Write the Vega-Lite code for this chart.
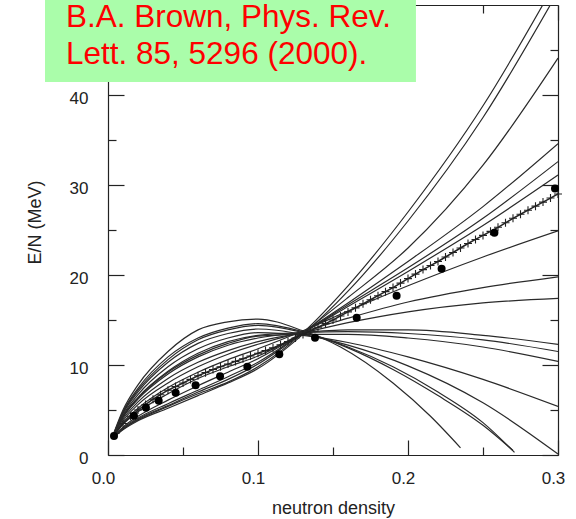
{
  "$schema": "https://vega.github.io/schema/vega-lite/v6.json",
  "width": 450,
  "height": 450,
  "autosize": {"type": "none"},
  "padding": {"left": 108, "top": 5, "right": 18, "bottom": 64},
  "background": "#ffffff",
  "config": {
    "view": {"stroke": null},
    "axis": {
      "grid": false,
      "domainColor": "#222222",
      "domainWidth": 1.2,
      "tickColor": "#222222",
      "tickWidth": 1.2,
      "labelFont": "Liberation Sans",
      "labelFontSize": 17,
      "labelColor": "#222222",
      "titleFont": "Liberation Sans",
      "titleFontSize": 18,
      "titleFontWeight": "normal",
      "titleColor": "#222222"
    }
  },
  "datasets": {
    "curves": [
      {"c":"c1","rho":0.004,"e":2.1},{"c":"c1","rho":0.01,"e":2.9},{"c":"c1","rho":0.02,"e":3.9},{"c":"c1","rho":0.04,"e":5.4},{"c":"c1","rho":0.06,"e":6.8},{"c":"c1","rho":0.08,"e":8.1},{"c":"c1","rho":0.1,"e":9.8},{"c":"c1","rho":0.13,"e":13.6},{"c":"c1","rho":0.16,"e":18.8},{"c":"c1","rho":0.2,"e":27.0},{"c":"c1","rho":0.25,"e":38.8},{"c":"c1","rho":0.3,"e":53.0},
      {"c":"c2","rho":0.004,"e":2.0},{"c":"c2","rho":0.01,"e":2.8},{"c":"c2","rho":0.02,"e":3.8},{"c":"c2","rho":0.04,"e":5.2},{"c":"c2","rho":0.06,"e":6.6},{"c":"c2","rho":0.08,"e":8.0},{"c":"c2","rho":0.1,"e":9.6},{"c":"c2","rho":0.13,"e":13.4},{"c":"c2","rho":0.16,"e":18.2},{"c":"c2","rho":0.2,"e":26.0},{"c":"c2","rho":0.25,"e":37.5},{"c":"c2","rho":0.3,"e":51.5},
      {"c":"c3","rho":0.004,"e":2.1},{"c":"c3","rho":0.01,"e":2.9},{"c":"c3","rho":0.02,"e":4.0},{"c":"c3","rho":0.04,"e":5.5},{"c":"c3","rho":0.06,"e":7.0},{"c":"c3","rho":0.08,"e":8.4},{"c":"c3","rho":0.1,"e":10.1},{"c":"c3","rho":0.13,"e":13.6},{"c":"c3","rho":0.16,"e":17.5},{"c":"c3","rho":0.2,"e":23.0},{"c":"c3","rho":0.25,"e":32.2},{"c":"c3","rho":0.3,"e":44.1},
      {"c":"c4","rho":0.004,"e":2.1},{"c":"c4","rho":0.01,"e":3.0},{"c":"c4","rho":0.02,"e":4.1},{"c":"c4","rho":0.04,"e":5.7},{"c":"c4","rho":0.06,"e":7.2},{"c":"c4","rho":0.08,"e":8.7},{"c":"c4","rho":0.1,"e":10.3},{"c":"c4","rho":0.13,"e":13.6},{"c":"c4","rho":0.16,"e":16.9},{"c":"c4","rho":0.2,"e":21.5},{"c":"c4","rho":0.25,"e":27.6},{"c":"c4","rho":0.3,"e":34.6},
      {"c":"c5","rho":0.004,"e":2.1},{"c":"c5","rho":0.01,"e":3.1},{"c":"c5","rho":0.02,"e":4.3},{"c":"c5","rho":0.04,"e":6.1},{"c":"c5","rho":0.06,"e":7.7},{"c":"c5","rho":0.08,"e":9.2},{"c":"c5","rho":0.1,"e":10.7},{"c":"c5","rho":0.13,"e":13.6},{"c":"c5","rho":0.16,"e":16.7},{"c":"c5","rho":0.2,"e":20.8},{"c":"c5","rho":0.25,"e":26.3},{"c":"c5","rho":0.3,"e":32.6},
      {"c":"c6","rho":0.004,"e":2.2},{"c":"c6","rho":0.01,"e":3.4},{"c":"c6","rho":0.02,"e":4.8},{"c":"c6","rho":0.04,"e":6.8},{"c":"c6","rho":0.06,"e":8.5},{"c":"c6","rho":0.08,"e":9.8},{"c":"c6","rho":0.1,"e":11.0},{"c":"c6","rho":0.13,"e":13.6},{"c":"c6","rho":0.16,"e":16.5},{"c":"c6","rho":0.2,"e":20.4},{"c":"c6","rho":0.25,"e":25.5},{"c":"c6","rho":0.3,"e":31.1},
      {"c":"c7","rho":0.004,"e":2.2},{"c":"c7","rho":0.01,"e":3.6},{"c":"c7","rho":0.02,"e":5.2},{"c":"c7","rho":0.04,"e":7.5},{"c":"c7","rho":0.06,"e":9.2},{"c":"c7","rho":0.08,"e":10.6},{"c":"c7","rho":0.1,"e":11.8},{"c":"c7","rho":0.13,"e":13.8},{"c":"c7","rho":0.16,"e":16.0},{"c":"c7","rho":0.2,"e":18.8},{"c":"c7","rho":0.25,"e":22.0},{"c":"c7","rho":0.3,"e":24.9},
      {"c":"c8","rho":0.004,"e":2.2},{"c":"c8","rho":0.01,"e":3.8},{"c":"c8","rho":0.02,"e":5.6},{"c":"c8","rho":0.04,"e":8.0},{"c":"c8","rho":0.06,"e":9.8},{"c":"c8","rho":0.08,"e":11.2},{"c":"c8","rho":0.1,"e":12.3},{"c":"c8","rho":0.13,"e":13.7},{"c":"c8","rho":0.16,"e":15.2},{"c":"c8","rho":0.2,"e":17.0},{"c":"c8","rho":0.25,"e":18.6},{"c":"c8","rho":0.3,"e":19.8},
      {"c":"c9","rho":0.004,"e":2.3},{"c":"c9","rho":0.01,"e":4.0},{"c":"c9","rho":0.02,"e":5.9},{"c":"c9","rho":0.04,"e":8.5},{"c":"c9","rho":0.06,"e":10.3},{"c":"c9","rho":0.08,"e":11.6},{"c":"c9","rho":0.1,"e":12.6},{"c":"c9","rho":0.13,"e":13.6},{"c":"c9","rho":0.16,"e":14.7},{"c":"c9","rho":0.2,"e":15.9},{"c":"c9","rho":0.25,"e":16.9},{"c":"c9","rho":0.3,"e":17.4},
      {"c":"c10","rho":0.004,"e":2.3},{"c":"c10","rho":0.01,"e":4.2},{"c":"c10","rho":0.02,"e":6.2},{"c":"c10","rho":0.04,"e":9.0},{"c":"c10","rho":0.06,"e":10.9},{"c":"c10","rho":0.08,"e":12.2},{"c":"c10","rho":0.1,"e":13.0},{"c":"c10","rho":0.13,"e":13.6},{"c":"c10","rho":0.16,"e":13.9},{"c":"c10","rho":0.2,"e":13.9},{"c":"c10","rho":0.25,"e":13.3},{"c":"c10","rho":0.3,"e":12.3},
      {"c":"c11","rho":0.004,"e":2.3},{"c":"c11","rho":0.01,"e":4.3},{"c":"c11","rho":0.02,"e":6.4},{"c":"c11","rho":0.04,"e":9.3},{"c":"c11","rho":0.06,"e":11.3},{"c":"c11","rho":0.08,"e":12.6},{"c":"c11","rho":0.1,"e":13.3},{"c":"c11","rho":0.13,"e":13.6},{"c":"c11","rho":0.16,"e":13.7},{"c":"c11","rho":0.2,"e":13.5},{"c":"c11","rho":0.25,"e":12.8},{"c":"c11","rho":0.3,"e":11.5},
      {"c":"c12","rho":0.004,"e":2.3},{"c":"c12","rho":0.01,"e":4.2},{"c":"c12","rho":0.02,"e":6.3},{"c":"c12","rho":0.04,"e":9.2},{"c":"c12","rho":0.06,"e":11.1},{"c":"c12","rho":0.08,"e":12.4},{"c":"c12","rho":0.1,"e":13.2},{"c":"c12","rho":0.13,"e":13.4},{"c":"c12","rho":0.16,"e":13.4},{"c":"c12","rho":0.2,"e":13.0},{"c":"c12","rho":0.25,"e":12.0},{"c":"c12","rho":0.3,"e":10.4},
      {"c":"c13","rho":0.004,"e":2.3},{"c":"c13","rho":0.01,"e":4.4},{"c":"c13","rho":0.02,"e":6.7},{"c":"c13","rho":0.04,"e":9.8},{"c":"c13","rho":0.06,"e":11.8},{"c":"c13","rho":0.08,"e":13.0},{"c":"c13","rho":0.1,"e":13.6},{"c":"c13","rho":0.13,"e":13.3},{"c":"c13","rho":0.16,"e":12.5},{"c":"c13","rho":0.2,"e":10.9},{"c":"c13","rho":0.25,"e":8.4},{"c":"c13","rho":0.3,"e":5.4},
      {"c":"c14","rho":0.004,"e":2.4},{"c":"c14","rho":0.01,"e":4.6},{"c":"c14","rho":0.02,"e":7.0},{"c":"c14","rho":0.04,"e":10.3},{"c":"c14","rho":0.06,"e":12.4},{"c":"c14","rho":0.08,"e":13.5},{"c":"c14","rho":0.1,"e":14.0},{"c":"c14","rho":0.13,"e":13.4},{"c":"c14","rho":0.16,"e":12.2},{"c":"c14","rho":0.2,"e":9.9},{"c":"c14","rho":0.25,"e":5.8},{"c":"c14","rho":0.3,"e":0.1},
      {"c":"c15","rho":0.004,"e":2.4},{"c":"c15","rho":0.01,"e":4.8},{"c":"c15","rho":0.02,"e":7.4},{"c":"c15","rho":0.04,"e":10.9},{"c":"c15","rho":0.06,"e":13.0},{"c":"c15","rho":0.08,"e":14.1},{"c":"c15","rho":0.1,"e":14.6},{"c":"c15","rho":0.13,"e":13.7},{"c":"c15","rho":0.16,"e":11.9},{"c":"c15","rho":0.19,"e":9.5},{"c":"c15","rho":0.22,"e":6.6},{"c":"c15","rho":0.25,"e":3.3},{"c":"c15","rho":0.27,"e":0.5},
      {"c":"c16","rho":0.004,"e":2.4},{"c":"c16","rho":0.01,"e":4.7},{"c":"c16","rho":0.02,"e":7.2},{"c":"c16","rho":0.04,"e":10.6},{"c":"c16","rho":0.06,"e":12.8},{"c":"c16","rho":0.08,"e":13.9},{"c":"c16","rho":0.1,"e":14.4},{"c":"c16","rho":0.13,"e":13.6},{"c":"c16","rho":0.16,"e":12.0},{"c":"c16","rho":0.19,"e":9.8},{"c":"c16","rho":0.22,"e":7.0},{"c":"c16","rho":0.25,"e":3.6},{"c":"c16","rho":0.271,"e":0.3},
      {"c":"c17","rho":0.004,"e":2.5},{"c":"c17","rho":0.01,"e":5.0},{"c":"c17","rho":0.02,"e":7.8},{"c":"c17","rho":0.04,"e":11.5},{"c":"c17","rho":0.06,"e":13.9},{"c":"c17","rho":0.08,"e":14.8},{"c":"c17","rho":0.1,"e":15.1},{"c":"c17","rho":0.13,"e":13.8},{"c":"c17","rho":0.155,"e":12.0},{"c":"c17","rho":0.19,"e":8.0},{"c":"c17","rho":0.215,"e":4.3},{"c":"c17","rho":0.235,"e":0.8}
    ],
    "crosses": [
      {"rho":0.005,"e":2.4},{"rho":0.01,"e":3.5},{"rho":0.015,"e":4.3},{"rho":0.02,"e":5.0},{"rho":0.025,"e":5.6},{"rho":0.03,"e":6.2},{"rho":0.035,"e":6.7},{"rho":0.04,"e":7.2},{"rho":0.045,"e":7.6},{"rho":0.05,"e":8.0},
      {"rho":0.055,"e":8.4},{"rho":0.06,"e":8.8},{"rho":0.065,"e":9.15},{"rho":0.07,"e":9.5},{"rho":0.075,"e":9.8},{"rho":0.08,"e":10.1},{"rho":0.085,"e":10.4},{"rho":0.09,"e":10.7},{"rho":0.095,"e":11.0},{"rho":0.1,"e":11.3},
      {"rho":0.105,"e":11.6},{"rho":0.11,"e":11.9},{"rho":0.115,"e":12.25},{"rho":0.12,"e":12.6},{"rho":0.125,"e":13.0},{"rho":0.13,"e":13.4},{"rho":0.135,"e":13.8},{"rho":0.14,"e":14.2},{"rho":0.145,"e":14.6},{"rho":0.15,"e":15.0},
      {"rho":0.155,"e":15.45},{"rho":0.16,"e":15.9},{"rho":0.165,"e":16.35},{"rho":0.17,"e":16.8},{"rho":0.175,"e":17.25},{"rho":0.18,"e":17.7},{"rho":0.185,"e":18.15},{"rho":0.19,"e":18.6},{"rho":0.195,"e":19.1},{"rho":0.2,"e":19.6},
      {"rho":0.205,"e":20.1},{"rho":0.21,"e":20.6},{"rho":0.215,"e":21.05},{"rho":0.22,"e":21.5},{"rho":0.225,"e":22.0},{"rho":0.23,"e":22.5},{"rho":0.235,"e":23.0},{"rho":0.24,"e":23.5},{"rho":0.245,"e":23.95},{"rho":0.25,"e":24.4},
      {"rho":0.255,"e":24.85},{"rho":0.26,"e":25.3},{"rho":0.265,"e":25.8},{"rho":0.27,"e":26.3},{"rho":0.275,"e":26.75},{"rho":0.28,"e":27.2},{"rho":0.285,"e":27.65},{"rho":0.29,"e":28.1},{"rho":0.295,"e":28.55},{"rho":0.3,"e":29.0}
    ],
    "dots": [
      {"rho":0.004,"e":2.1},{"rho":0.0173,"e":4.37},{"rho":0.0253,"e":5.26},{"rho":0.0338,"e":6.04},{"rho":0.0451,"e":6.93},
      {"rho":0.0584,"e":7.74},{"rho":0.0747,"e":8.74},{"rho":0.0929,"e":9.81},{"rho":0.1142,"e":11.2},{"rho":0.138,"e":13.04},
      {"rho":0.1658,"e":15.26},{"rho":0.1924,"e":17.7},{"rho":0.2224,"e":20.7},{"rho":0.2576,"e":24.7},{"rho":0.298,"e":29.6}
    ],
    "noteBox": [
      {"x0":-0.042,"x1":0.2053,"y0":41.44,"y1":51}
    ],
    "noteText": [
      {"rho":-0.028,"e":47.6,"t":"B.A. Brown, Phys. Rev."},
      {"rho":-0.028,"e":43.5,"t":"Lett. 85, 5296 (2000)."}
    ]
  },
  "layer": [
    {
      "data": {"name": "curves"},
      "mark": {"type": "line", "clip": true, "interpolate": "monotone", "color": "#2a2a2a", "strokeWidth": 1.2},
      "encoding": {
        "x": {
          "field": "rho", "type": "quantitative",
          "scale": {"domain": [0, 0.3], "nice": false, "zero": false},
          "axis": {
            "orient": "bottom",
            "values": [0, 0.05, 0.1, 0.15, 0.2, 0.25, 0.3],
            "tickSize": {"condition": {"test": "abs(datum.value*10 - round(datum.value*10)) < 0.001", "value": -15}, "value": -8},
            "labelExpr": "abs(datum.value*10 - round(datum.value*10)) < 0.001 ? format(datum.value, '.1f') : ''",
            "labelFlush": false,
            "labelOffset": -5,
            "labelPadding": 30,
            "title": "neutron density",
            "titleY": 58,
            "titleBaseline": "alphabetic"
          }
        },
        "y": {
          "field": "e", "type": "quantitative",
          "scale": {"domain": [0, 50], "nice": false, "zero": false},
          "axis": {
            "orient": "left",
            "values": [0, 5, 10, 15, 20, 25, 30, 35, 40, 45],
            "tickSize": {"condition": {"test": "datum.value % 10 === 0", "value": -16}, "value": -8},
            "labelExpr": "datum.value % 10 === 0 ? datum.label : ''",
            "labelOffset": 3,
            "labelPadding": 36,
            "title": "E/N (MeV)",
            "titleX": -68,
            "titleY": 217,
            "titleAngle": -90,
            "titleAlign": "center",
            "titleBaseline": "alphabetic"
          }
        },
        "detail": {"field": "c", "type": "nominal"}
      }
    },
    {
      "data": {"name": "crosses"},
      "mark": {"type": "line", "clip": true, "color": "#222222", "strokeWidth": 1.5},
      "encoding": {
        "x": {"field": "rho", "type": "quantitative", "scale": {"domain": [0, 0.3], "nice": false, "zero": false}, "axis": null},
        "y": {"field": "e", "type": "quantitative", "scale": {"domain": [0, 50], "nice": false, "zero": false}, "axis": null}
      }
    },
    {
      "data": {"name": "crosses"},
      "mark": {"type": "point", "shape": "M0,-1L0,1M-1,0L1,0", "filled": false, "size": 64, "stroke": "#222222", "strokeWidth": 1.1, "opacity": 1},
      "encoding": {
        "x": {"field": "rho", "type": "quantitative", "scale": {"domain": [0, 0.3], "nice": false, "zero": false}, "axis": null},
        "y": {"field": "e", "type": "quantitative", "scale": {"domain": [0, 50], "nice": false, "zero": false}, "axis": null}
      }
    },
    {
      "data": {"name": "dots"},
      "mark": {"type": "circle", "size": 64, "color": "#000000", "opacity": 1},
      "encoding": {
        "x": {
          "field": "rho", "type": "quantitative",
          "scale": {"domain": [0, 0.3], "nice": false, "zero": false},
          "axis": {
            "orient": "top",
            "values": [0, 0.05, 0.1, 0.15, 0.2, 0.25, 0.3],
            "tickSize": {"condition": {"test": "abs(datum.value*10 - round(datum.value*10)) < 0.001", "value": -15}, "value": -8},
            "labels": false,
            "title": null
          }
        },
        "y": {
          "field": "e", "type": "quantitative",
          "scale": {"domain": [0, 50], "nice": false, "zero": false},
          "axis": {
            "orient": "right",
            "values": [0, 5, 10, 15, 20, 25, 30, 35, 40, 45],
            "tickSize": {"condition": {"test": "datum.value % 10 === 0", "value": -16}, "value": -8},
            "labels": false,
            "title": null
          }
        }
      }
    },
    {
      "data": {"name": "noteBox"},
      "mark": {"type": "rect", "clip": false, "fill": "#aafdaa", "stroke": null},
      "encoding": {
        "x": {"field": "x0", "type": "quantitative", "scale": {"domain": [0, 0.3], "nice": false, "zero": false}, "axis": null},
        "x2": {"field": "x1"},
        "y": {"field": "y0", "type": "quantitative", "scale": {"domain": [0, 50], "nice": false, "zero": false}, "axis": null},
        "y2": {"field": "y1"}
      }
    },
    {
      "data": {"name": "noteText"},
      "mark": {"type": "text", "clip": false, "align": "left", "baseline": "alphabetic", "font": "Liberation Sans", "fontWeight": "normal", "fontSize": 31.5, "color": "#ff0000"},
      "encoding": {
        "x": {"field": "rho", "type": "quantitative", "scale": {"domain": [0, 0.3], "nice": false, "zero": false}, "axis": null},
        "y": {"field": "e", "type": "quantitative", "scale": {"domain": [0, 50], "nice": false, "zero": false}, "axis": null},
        "text": {"field": "t", "type": "nominal"}
      }
    }
  ],
  "resolve": {"axis": {"x": "independent", "y": "independent"}}
}
